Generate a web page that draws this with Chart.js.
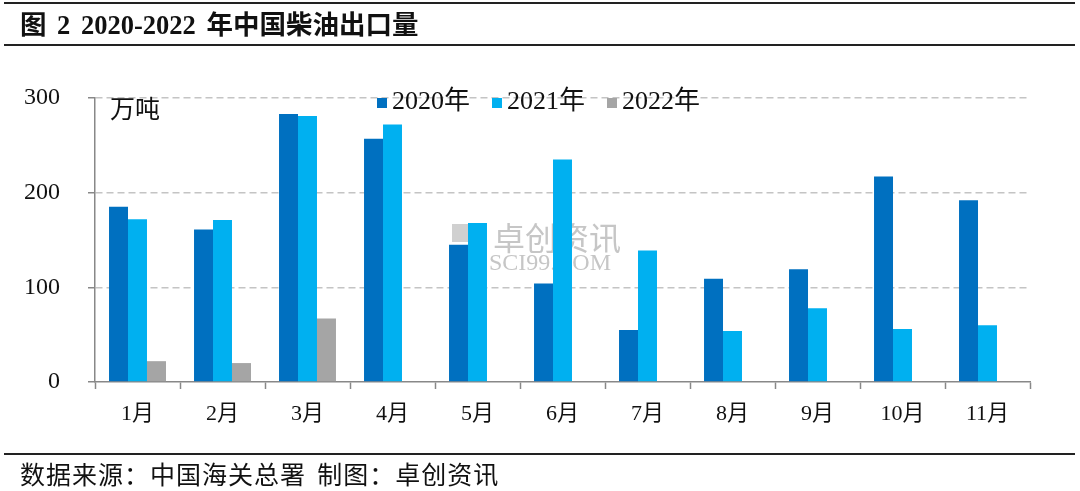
<!DOCTYPE html>
<html>
<head>
<meta charset="utf-8">
<script src="https://cdn.jsdelivr.net/npm/chart.js@4/dist/chart.umd.min.js"></script>
<style>
  body { margin: 0; background: #fff; }
  #wrap { position: relative; width: 1080px; height: 491px; overflow: hidden;
    font-family: "Liberation Serif", "Noto Sans CJK SC", serif; color: #111; }
  #chartBox { position: absolute; left: 0; top: 0; width: 1080px; height: 491px; }
  .rule { position: absolute; left: 4px; width: 1071px; height: 2px; background: #222; }
  #title { position: absolute; left: 20px; top: 8px; font-size: 26.5px; font-weight: bold; line-height: 34px; word-spacing: 4px; }
  #source { position: absolute; left: 20px; top: 461px; font-size: 25px; line-height: 30px; letter-spacing: 1px; word-spacing: 4px; }
  #unit { position: absolute; left: 110px; top: 95px; font-size: 25px; line-height: 30px; }
  #legend { position: absolute; left: 377px; top: 86px; display: flex; gap: 22px; font-size: 26px; line-height: 30px; }
  #legend span.box { display: inline-block; width: 10px; height: 10px; margin-right: 5px; vertical-align: 1px; }
</style>
</head>
<body>
<div id="wrap">
  <div id="chartBox"><canvas id="exportChart" width="1080" height="491"></canvas></div>
  <div class="rule" style="top:2px"></div>
  <div id="title">图 2 2020-2022 年中国柴油出口量</div>
  <div class="rule" style="top:44px"></div>
  <div id="unit">万吨</div>
  <div id="legend"></div>
  <div class="rule" style="top:453px"></div>
  <div id="source">数据来源：中国海关总署 制图：卓创资讯</div>
</div>
<script>
// 月份与出口量（万吨）
const months = ["1月", "2月", "3月", "4月", "5月", "6月", "7月", "8月", "9月", "10月", "11月"];
const exports2020 = [185, 161, 283, 257, 145, 104, 55, 109, 119, 217, 192];
const exports2021 = [172, 171, 281, 272, 168, 235, 139, 54, 78, 56, 60];
const exports2022 = [22, 20, 67, null, null, null, null, null, null, null, null];
const seriesNames = ["2020年", "2021年", "2022年"];
const seriesColors = ["#0070c0", "#00b0f0", "#a5a5a5"];
const yTicks = [0, 100, 200, 300];

const legendBox = document.getElementById("legend");
seriesNames.forEach((name, i) => {
  const item = document.createElement("div");
  item.innerHTML = '<span class="box" style="background:' + seriesColors[i] + '"></span>' + name;
  legendBox.appendChild(item);
});

// 水印，画在柱子下面
const watermark = {
  id: "watermark",
  beforeDatasetsDraw(chart) {
    const ctx = chart.ctx;
    ctx.save();
    ctx.fillStyle = "#d0d0d0";
    ctx.fillRect(452, 224, 18, 18);
    ctx.fillStyle = "#dedede";
    ctx.fillRect(452, 249, 18, 18);
    ctx.fillStyle = "#c6c6c6";
    ctx.font = "32px 'Noto Sans CJK SC'";
    ctx.textBaseline = "middle";
    ctx.fillText("卓创资讯", 493, 238);
    ctx.font = "24px 'Liberation Serif'";
    ctx.fillText("SCI99.COM", 489, 264);
    ctx.restore();
  }
};

const ctx = document.getElementById("exportChart").getContext("2d");
new Chart(ctx, {
  type: "bar",
  data: {
    labels: months,
    datasets: [
      { label: seriesNames[0], data: exports2020, backgroundColor: seriesColors[0] },
      { label: seriesNames[1], data: exports2021, backgroundColor: seriesColors[1] },
      { label: seriesNames[2], data: exports2022, backgroundColor: seriesColors[2] }
    ]
  },
  options: {
    responsive: false,
    animation: false,
    devicePixelRatio: 1,
    barPercentage: 1,
    categoryPercentage: 0.67,
    layout: { padding: { top: 98, right: 50, bottom: 0, left: 0 } },
    plugins: { legend: { display: false }, tooltip: { enabled: false } },
    scales: {
      x: {
        afterFit: (scale) => { scale.height = 109; },
        grid: { drawOnChartArea: false, tickLength: 7, tickColor: "#888", tickWidth: 1.5 },
        border: { color: "#888", width: 1.5 },
        ticks: { color: "#111", padding: 12, font: { family: "'Liberation Serif', 'Noto Sans CJK SC'", size: 22 } }
      },
      y: {
        min: 0,
        max: 300,
        afterFit: (scale) => { scale.width = 95; },
        afterBuildTicks: (scale) => { scale.ticks = yTicks.map(v => ({ value: v })); },
        grid: {
          color: (c) => (c.tick && c.tick.value === 0 ? "rgba(0,0,0,0)" : "#c4c4c4"),
          lineWidth: 1.5,
          tickLength: 7,
          tickColor: "#888",
          tickWidth: 1.5
        },
        border: { color: "#888", width: 1.5, dash: [7, 4] },
        ticks: { color: "#111", padding: 28, font: { family: "'Liberation Serif'", size: 24 } }
      }
    }
  },
  plugins: [watermark]
});
</script>
</body>
</html>
